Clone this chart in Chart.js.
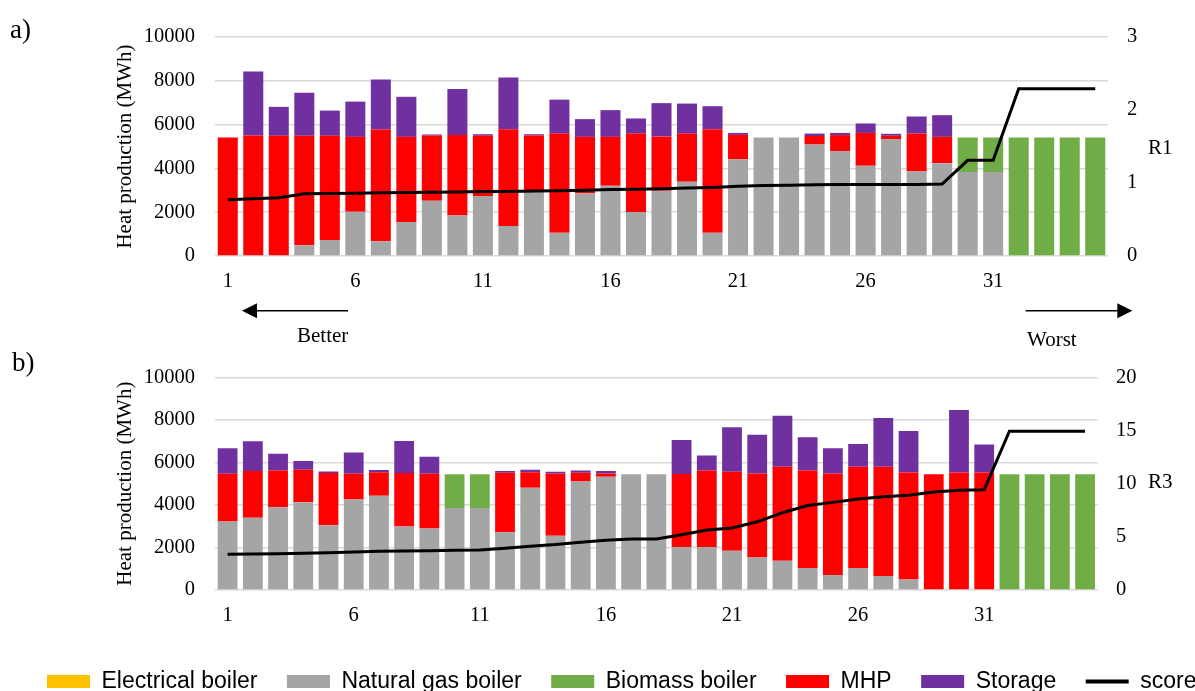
<!DOCTYPE html>
<html>
<head>
<meta charset="utf-8">
<script src="https://cdn.jsdelivr.net/npm/chart.js@4.4.1/dist/chart.umd.min.js"></script>
<style>
html,body{margin:0;padding:0;width:1195px;height:691px;overflow:hidden;background:#fff;}
#wa{position:absolute;left:0;top:0;width:1195px;height:355px;}
#wb{position:absolute;left:0;top:345px;width:1260px;height:358px;}
</style>
</head>
<body>
<div id="wa"><canvas id="ca"></canvas></div>
<div id="wb"><canvas id="cb"></canvas></div>
<script>
// ---------- data ----------
const categories = ['1','2','3','4','5','6','7','8','9','10','11','12','13','14','15','16','17','18','19','20','21','22','23','24','25','26','27','28','29','30','31','32','33','34','35'];

// panel a)
const electricA = [0,0,0,0,0,0,0,0,0,0,0,0,0,0,0,0,0,0,0,0,0,0,0,0,0,0,0,0,0,0,0,0,0,0,0];
const gasA      = [0,0,0,490,730,2020,670,1550,2520,1850,2740,1370,2950,1060,2870,3210,2010,2980,3390,1060,4410,5410,5410,5090,4790,4120,5340,3860,4240,3830,3830,0,0,0,0];
const biomassA  = [0,0,0,0,0,0,0,0,0,0,0,0,0,0,0,0,0,0,0,0,0,0,0,0,0,0,0,0,0,1580,1580,5410,5410,5410,5410];
const mhpA      = [5410,5500,5490,5000,4760,3420,5110,3890,2980,3680,2750,4420,2550,4530,2570,2230,3580,2480,2200,4730,1120,0,0,390,730,1500,150,1730,1200,0,0,0,0,0,0];
const storageA  = [0,2920,1320,1970,1150,1610,2280,1830,50,2090,70,2360,60,1550,810,1220,690,1520,1370,1050,90,0,0,110,100,430,90,780,990,0,0,0,0,0,0];
const scoreA    = [0.77,0.784,0.797,0.852,0.855,0.86,0.865,0.87,0.874,0.878,0.882,0.885,0.89,0.895,0.90,0.91,0.915,0.92,0.93,0.94,0.955,0.965,0.97,0.975,0.98,0.98,0.98,0.98,0.985,1.31,1.31,2.29,2.29,2.29,2.29];

// panel b)
const electricB = [0,0,0,0,0,0,0,0,0,0,0,0,0,0,0,0,0,0,0,0,0,0,0,0,0,0,0,0,0,0,0,0,0,0,0];
const gasB      = [3220,3400,3890,4120,3050,4260,4430,2990,2890,3850,3850,2720,4810,2550,5100,5330,5440,5440,2020,2020,1850,1530,1370,1040,700,1040,660,490,0,0,0,0,0,0,0];
const biomassB  = [0,0,0,0,0,0,0,0,0,1590,1590,0,0,0,0,0,0,0,0,0,0,0,0,0,0,0,0,0,0,0,0,5440,5440,5440,5440];
const mhpB      = [2250,2200,1730,1530,2450,1210,1110,2510,2580,0,0,2790,730,2930,410,150,0,0,3430,3600,3710,3950,4430,4580,4780,4760,5140,5040,5440,5530,5530,0,0,0,0];
const storageB  = [1200,1390,790,410,70,990,100,1510,790,0,0,80,110,80,110,110,0,0,1600,700,2090,1820,2390,1560,1180,1070,2290,1940,0,2930,1310,0,0,0,0];
const scoreB    = [3.36,3.39,3.42,3.46,3.5,3.58,3.64,3.66,3.7,3.74,3.76,3.93,4.12,4.27,4.49,4.67,4.79,4.79,5.19,5.65,5.83,6.41,7.27,7.95,8.24,8.55,8.76,8.91,9.22,9.37,9.43,14.93,14.93,14.93,14.93];

// ---------- styling ----------
const SERIF = "'Liberation Serif', 'Times New Roman', serif";
const SANS = "'Liberation Sans', Arial, sans-serif";
const COLORS = {elec:'#FFC000', gas:'#A5A5A5', bio:'#70AD47', mhp:'#FF0000', sto:'#7030A0', score:'#000000'};

function drawArrow(ctx, tail, tip, y) {
  const dir = tip > tail ? 1 : -1;
  const hl = 15, hw = 7.5;
  ctx.beginPath();
  ctx.moveTo(tail, y);
  ctx.lineTo(tip - dir * hl, y);
  ctx.stroke();
  ctx.beginPath();
  ctx.moveTo(tip, y);
  ctx.lineTo(tip - dir * hl, y - hw);
  ctx.lineTo(tip - dir * hl, y + hw);
  ctx.closePath();
  ctx.fill();
}

const overlayPlugin = {
  id: 'overlay',
  afterDraw(chart, args, opts) {
    const ctx = chart.ctx;
    ctx.save();
    ctx.fillStyle = '#000';
    ctx.strokeStyle = '#000';
    ctx.textAlign = 'left';
    ctx.textBaseline = 'alphabetic';
    ctx.font = '27px ' + SERIF;
    ctx.fillText(opts.panel, opts.panelX, opts.panelY);
    ctx.font = '21px ' + SERIF;
    ctx.textBaseline = 'middle';
    ctx.fillText(opts.rTitle, opts.rTitleX, opts.rTitleY);
    if (opts.arrows) {
      ctx.lineWidth = 1.5;
      drawArrow(ctx, 348, 242, 310.7);
      drawArrow(ctx, 1025.7, 1132.3, 310.7);
      ctx.textBaseline = 'alphabetic';
      ctx.fillText('Better', 297, 341.5);
      ctx.fillText('Worst', 1027, 346);
    }
    ctx.restore();
  }
};

function buildChart(id, p) {
  return new Chart(document.getElementById(id), {
    type: 'bar',
    data: {
      labels: categories,
      datasets: [
        {label:'Electrical boiler', data:p.elec, backgroundColor:COLORS.elec, order:1},
        {label:'Natural gas boiler', data:p.gas, backgroundColor:COLORS.gas, order:1},
        {label:'Biomass boiler', data:p.bio, backgroundColor:COLORS.bio, order:1},
        {label:'MHP', data:p.mhp, backgroundColor:COLORS.mhp, order:1},
        {label:'Storage', data:p.sto, backgroundColor:COLORS.sto, order:1},
        {label:'score', type:'line', data:p.score, yAxisID:'y1', borderColor:COLORS.score,
         backgroundColor:COLORS.score, borderWidth:3, pointRadius:0, pointHoverRadius:0,
         tension:0, fill:false, order:0}
      ]
    },
    options: {
      responsive: true,
      maintainAspectRatio: false,
      animation: false,
      events: [],
      datasets: { bar: { barPercentage: 0.785, categoryPercentage: 1 } },
      layout: { padding: { left: p.padL, top: p.padT, right: 0, bottom: 0 } },
      plugins: {
        tooltip: { enabled: false },
        title: { display: false },
        legend: p.legend ? {
          display: true,
          position: 'bottom',
          align: 'start',
          labels: {
            color: '#000',
            font: { family: SANS, size: 23 },
            usePointStyle: true,
            pointStyleWidth: 43,
            boxWidth: 43,
            boxHeight: 13,
            padding: 29.5,
            sort: (a, b) => ((a.text === 'score') - (b.text === 'score')) || (a.datasetIndex - b.datasetIndex),
            generateLabels(chart) {
              const items = Chart.defaults.plugins.legend.labels.generateLabels(chart);
              items.forEach(it => {
                const ds = chart.data.datasets[it.datasetIndex];
                if (ds.type === 'line') {
                  it.pointStyle = 'line'; it.lineWidth = 4; it.strokeStyle = '#000'; it.fillStyle = '#000';
                } else {
                  it.pointStyle = 'rect'; it.lineWidth = 0;
                }
                it.rotation = 0;
              });
              return items;
            }
          }
        } : { display: false },
        overlay: p.overlay
      },
      scales: {
        x: {
          stacked: true,
          grid: { display: false, drawTicks: false },
          border: { display: false },
          ticks: {
            autoSkip: false, maxRotation: 0, minRotation: 0, padding: 13, color: '#000',
            font: { family: SERIF, size: 20.5 },
            callback: (v, i) => (i % 5 === 0 ? categories[i] : '')
          },
          afterFit: s => { s.height = p.xH; }
        },
        y: {
          stacked: true, min: 0, max: 10000,
          grid: { color: '#D9D9D9', lineWidth: 1.5, drawTicks: false },
          border: { display: false },
          ticks: { stepSize: 2000, padding: 20, color: '#000', font: { family: SERIF, size: 20.5 }, callback: v => String(v) },
          title: { display: true, text: 'Heat production (MWh)', color: '#000', font: { family: SERIF, size: 21 }, padding: { top: p.titlePad, bottom: 0 } },
          afterFit: s => { s.width = p.yW; }
        },
        y1: {
          position: 'right', min: 0, max: p.rMax,
          grid: { display: false, drawTicks: false },
          border: { display: false },
          ticks: { stepSize: p.rStep, padding: p.rPad, color: '#000', font: { family: SERIF, size: 20.5 }, callback: v => String(v) },
          afterFit: s => { s.width = p.y1W; }
        }
      }
    },
    plugins: [overlayPlugin]
  });
}

buildChart('ca', {
  elec: electricA, gas: gasA, bio: biomassA, mhp: mhpA, sto: storageA, score: scoreA,
  padL: 0, padT: 37, xH: 99, yW: 215, y1W: 80 + 7, titlePad: 112.4,
  rMax: 3, rStep: 1, rPad: 19, legend: false,
  overlay: { panel: 'a)', panelX: 10, panelY: 37.5, rTitle: 'R1', rTitleX: 1148, rTitleY: 148, arrows: true }
});

buildChart('cb', {
  elec: electricB, gas: gasB, bio: biomassB, mhp: mhpB, sto: storageB, score: scoreB,
  padL: 17.5, padT: 26.7, xH: 50.5, yW: 197.5, y1W: 162.3, titlePad: 94.9,
  rMax: 20, rStep: 5, rPad: 18.3, legend: true,
  overlay: { panel: 'b)', panelX: 12, panelY: 25.7, rTitle: 'R3', rTitleX: 1148, rTitleY: 137.7, arrows: false }
});
</script>
</body>
</html>
